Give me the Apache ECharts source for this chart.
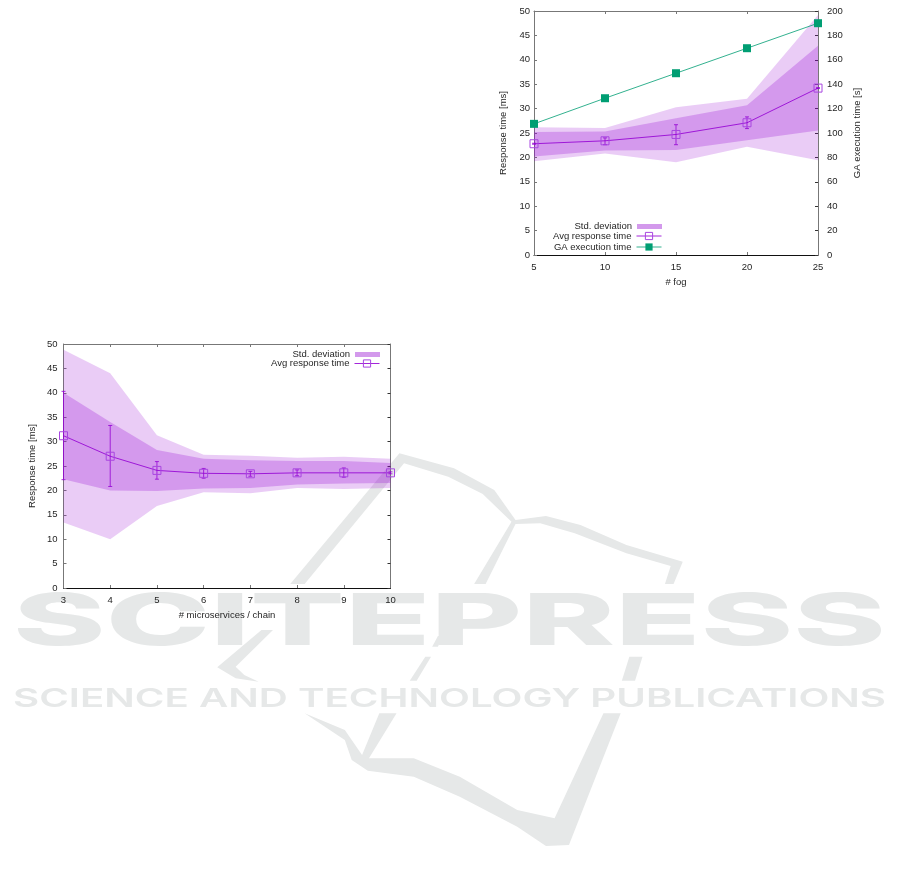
<!DOCTYPE html>
<html><head><meta charset="utf-8">
<style>html,body{margin:0;padding:0;background:#fff}#c{width:901px;height:881px}</style>
<script src="https://cdn.jsdelivr.net/npm/echarts@6/dist/echarts.min.js"></script>
</head><body><div id="c"></div>
<script>
// Chart A: # fog
const fogX = [5, 10, 15, 20, 25];
const fogOuterLow = [19.2, 20.8, 19.0, 22.2, 19.4];
const fogOuterHigh = [26.2, 26.0, 30.3, 32.0, 49.2];
const fogInnerLow = [20.2, 21.4, 21.5, 23.5, 25.5];
const fogInnerHigh = [25.2, 25.3, 28.0, 30.7, 42.9];
const fogAvg = [22.8, 23.4, 24.7, 27.1, 34.2];
const fogErrLow = [22.7, 22.6, 22.6, 25.9, 34.1];
const fogErrHigh = [22.9, 24.0, 26.7, 28.3, 34.3];
const fogGA = [107.5, 128.5, 149, 169.5, 190];
// Chart B: # microservices / chain
const msX = [3, 4, 5, 6, 7, 8, 9, 10];
const msOuterLow = [13.4, 10.0, 16.8, 19.6, 19.4, 20.5, 20.3, 20.5];
const msOuterHigh = [48.8, 44.0, 31.3, 27.3, 27.1, 26.7, 26.9, 26.5];
const msInnerLow = [22.3, 20.0, 19.9, 20.4, 20.5, 21.2, 21.4, 21.5];
const msInnerHigh = [40.0, 34.0, 28.3, 26.5, 26.2, 26.0, 26.0, 25.6];
const msAvg = [31.2, 27.0, 24.1, 23.5, 23.4, 23.6, 23.6, 23.6];
const msErrLow = [22.2, 20.8, 22.3, 22.5, 22.9, 23.0, 22.7, 23.4];
const msErrHigh = [40.3, 33.3, 25.9, 24.5, 23.9, 24.2, 24.6, 23.8];

const FONT = '"Liberation Sans", Arial, sans-serif';
const INK = '#262626';
const FRAME = '#777';
const BASE = '#111';
const PURPLE = '#9400d3';
const GREEN = '#009e73';
const WM = '#e6e8e8';

function pairs(xs, ys) { return xs.map((x, i) => [x, ys[i]]); }

function bandSeries(xs, lo, hi, opacity, x, y, name) {
  return { type: 'custom', name, xAxisIndex: x, yAxisIndex: y, z: 2, silent: true,
    itemStyle: { color: '#d399ec' },
    data: xs.map((v, i) => [v, lo[i], hi[i]]),
    encode: { x: 0, y: [1, 2] },
    renderItem(params, api) {
      if (params.dataIndex !== 0) return null;
      const upper = xs.map((v, i) => api.coord([v, hi[i]]));
      const lower = xs.map((v, i) => api.coord([v, lo[i]])).reverse();
      return { type: 'polygon', shape: { points: upper.concat(lower) }, style: { fill: PURPLE, opacity } };
    } };
}
function avgSeries(xs, ys, x, y) {
  return { type: 'line', name: 'Avg response time', xAxisIndex: x, yAxisIndex: y, data: pairs(xs, ys),
    symbol: 'rect', symbolSize: 8, showAllSymbol: true, clip: false, z: 5,
    lineStyle: { color: PURPLE, width: 1, opacity: 0.85 },
    itemStyle: { color: 'transparent', borderColor: '#a846e0', borderWidth: 1 } };
}
function errSeries(xs, lo, hi, x, y) {
  return { type: 'custom', xAxisIndex: x, yAxisIndex: y, z: 4, silent: true, clip: false,
    data: xs.map((v, i) => [v, lo[i], hi[i]]),
    encode: { x: 0, y: [1, 2] },
    renderItem(params, api) {
      const a = api.coord([api.value(0), api.value(1)]);
      const b = api.coord([api.value(0), api.value(2)]);
      const st = { stroke: PURPLE, lineWidth: 1, opacity: 0.8, fill: null };
      return { type: 'group', children: [
        { type: 'line', shape: { x1: a[0], y1: a[1], x2: b[0], y2: b[1] }, style: st },
        { type: 'line', shape: { x1: a[0] - 2, y1: a[1], x2: a[0] + 2, y2: a[1] }, style: st },
        { type: 'line', shape: { x1: b[0] - 2, y1: b[1], x2: b[0] + 2, y2: b[1] }, style: st }
      ] };
    } };
}
function xAx(grid, min, max, interval, name, mirror) {
  return { type: 'value', gridIndex: grid, min, max, interval, position: mirror ? 'top' : 'bottom',
    axisLine: { show: true, onZero: false, lineStyle: { color: mirror ? FRAME : BASE, width: 1 } },
    axisTick: { show: true, inside: true, length: 3, lineStyle: { color: FRAME, width: 1 } },
    splitLine: { show: false }, axisLabel: { show: !mirror, color: INK, fontFamily: FONT, fontSize: 9.5, margin: 7, hideOverlap: false, showMinLabel: true, showMaxLabel: true },
    name: mirror ? '' : name, nameLocation: 'middle', nameGap: 22,
    nameTextStyle: { color: INK, fontFamily: FONT, fontSize: 9.5 } };
}
function yAx(grid, max, interval, name, right, labels, margin) {
  return { type: 'value', gridIndex: grid, min: 0, max, interval, position: right ? 'right' : 'left',
    axisLine: { show: true, onZero: false, lineStyle: { color: FRAME, width: 1 } },
    axisTick: { show: true, inside: true, length: 3, lineStyle: { color: right ? '#333' : FRAME, width: 1 } },
    splitLine: { show: false }, axisLabel: { show: labels, color: INK, fontFamily: FONT, fontSize: 9.5, margin, hideOverlap: false, showMinLabel: true, showMaxLabel: true },
    name: labels ? name : '', nameLocation: 'middle', nameRotate: 90, nameGap: right ? 34 : 26,
    nameTextStyle: { color: INK, fontFamily: FONT, fontSize: 9.5 } };
}
function legendOf(names, right, top, h, gap) {
  return { orient: 'vertical', align: 'right', right, top, padding: 0, itemWidth: 25, itemHeight: h, itemGap: gap,
    textStyle: { color: INK, fontFamily: FONT, fontSize: 9.5, lineHeight: 10 }, selectedMode: false,
    lineStyle: { width: 1 }, itemStyle: { borderWidth: 1 },
    data: names };
}
const bandLegendItem = { name: 'Std. deviation', icon: 'rect', itemStyle: { color: '#d399ec', borderWidth: 0 } };

// Watermark outlines (page decoration only, no chart data); x in 1.74x space, y in 3x space
const logo = [
  [[505,462],[695,70],[790,115],[860,180],[897,270],[950,258],[1010,285],[1090,345],[1188,395],[1172,462],[1157,462],[1167,408],[1090,370],[1000,310],[940,280],[897,282],[845,462],[825,462],[890,275],[840,192],[780,140],[703,100],[530,462]],
  [[770,618],[762,650],[752,650],[762,618]],
  [[455,600],[475,600],[410,710],[425,735],[450,755],[410,745],[378,712]],
  [[750,680],[725,752],[713,752],[740,680]],
  [[1118,680],[1105,752],[1082,752],[1095,680]],
  [[530,850],[600,900],[630,975],[660,850],[690,850],[642,985],[720,985],[800,1040],[900,1140],[965,1165],[1050,850],[1080,850],[990,1245],[950,1248],[900,1190],[800,1100],[720,1040],[640,1022],[612,990],[600,930]]
];
const wmGraphics = logo.map(p => ({ type: 'polygon', z: 0, silent: true,
  shape: { points: p.map(q => [q[0] / 1.74, q[1] / 3 + 430]) }, style: { fill: WM } }));
const measure = document.createElement('canvas').getContext('2d');
function wmText(text, font, x, y, width, scaleY) {
  measure.font = font;
  return { type: 'text', z: 0, silent: true, x, y, scaleX: width / measure.measureText(text).width, scaleY,
    style: { text, fill: WM, font, textVerticalAlign: 'top' } };
}
wmGraphics.push(
  wmText('SCITEPRESS', '800 82px Inter', 13, 587, 873, 0.88),
  wmText('SCIENCE AND TECHNOLOGY PUBLICATIONS', '600 26px Inter', 13, 686, 873, 1)
);

const chart = echarts.init(document.getElementById('c'), null, { renderer: 'canvas' });
chart.setOption({
  animation: false,
  backgroundColor: '#fff',
  graphic: { elements: wmGraphics },
  grid: [
    { left: 534, top: 11, width: 284, height: 244, containLabel: false },
    { left: 63.5, top: 344, width: 327, height: 244, containLabel: false }
  ],
  xAxis: [
    xAx(0, 5, 25, 5, '# fog', false), xAx(0, 5, 25, 5, '', true),
    xAx(1, 3, 10, 1, '# microservices / chain', false), xAx(1, 3, 10, 1, '', true)
  ],
  yAxis: [
    yAx(0, 50, 5, 'Response time [ms]', false, true, 4), yAx(0, 200, 20, 'GA execution time [s]', true, true, 9),
    yAx(1, 50, 5, 'Response time [ms]', false, true, 6), yAx(1, 50, 5, '', true, false, 6)
  ],
  legend: [
    legendOf([bandLegendItem], 239, 221.5, 5, 0),
    legendOf(['Avg response time', 'GA execution time'], 239, 231, 9, 1),
    legendOf([bandLegendItem], 521, 349.5, 5, 0),
    legendOf(['Avg response time'], 521, 358.5, 9, 1)
  ],
  series: [
    bandSeries(fogX, fogOuterLow, fogOuterHigh, 0.2, 0, 0, 'Std. deviation outer'),
    bandSeries(fogX, fogInnerLow, fogInnerHigh, 0.25, 0, 0, 'Std. deviation'),
    errSeries(fogX, fogErrLow, fogErrHigh, 0, 0),
    avgSeries(fogX, fogAvg, 0, 0),
    { type: 'line', name: 'GA execution time', xAxisIndex: 0, yAxisIndex: 1, data: pairs(fogX, fogGA),
      symbol: 'rect', symbolSize: 8, showAllSymbol: true, clip: false, z: 6,
      lineStyle: { color: GREEN, width: 1, opacity: 0.8 }, itemStyle: { color: GREEN } },
    bandSeries(msX, msOuterLow, msOuterHigh, 0.2, 2, 2, 'Std. deviation outer'),
    bandSeries(msX, msInnerLow, msInnerHigh, 0.25, 2, 2, 'Std. deviation'),
    errSeries(msX, msErrLow, msErrHigh, 2, 2),
    avgSeries(msX, msAvg, 2, 2)
  ]
});
</script></body></html>
